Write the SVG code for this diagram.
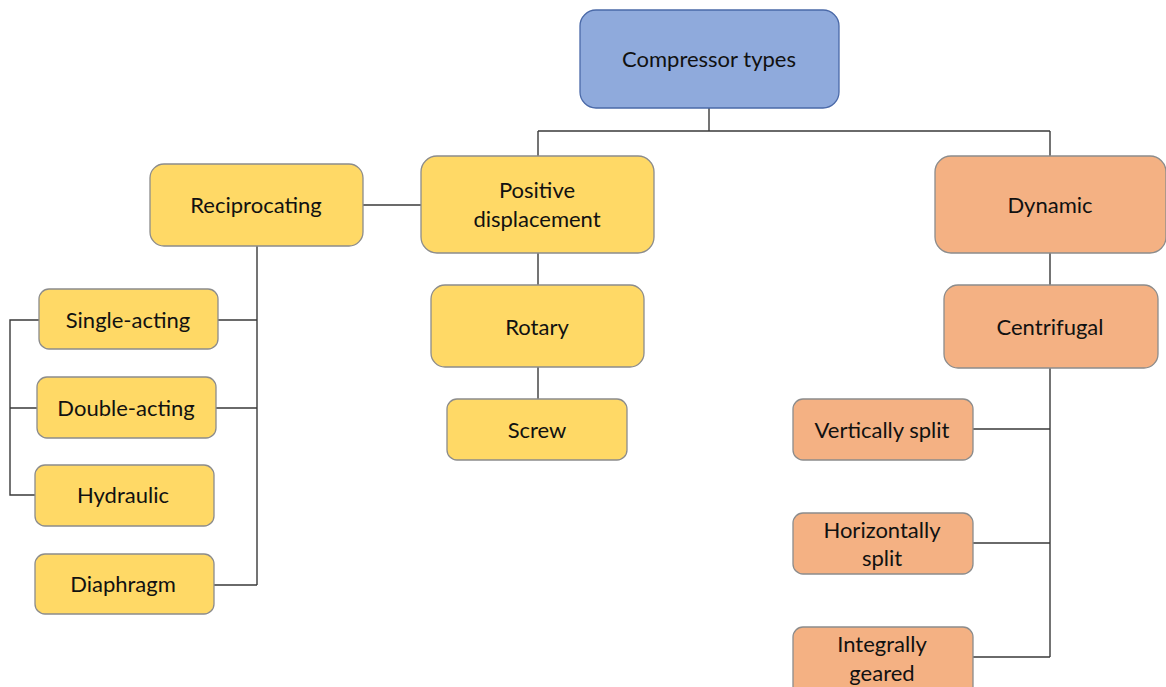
<svg xmlns="http://www.w3.org/2000/svg" width="1166" height="687" viewBox="0 0 1166 687">
<style>
.y{fill:#FFD966;stroke:#8c8c8c;stroke-width:1.3}
.o{fill:#F4B183;stroke:#8c8c8c;stroke-width:1.3}
.b{fill:#8FAADC;stroke:#4a69a8;stroke-width:1.3}
text{font-family:Lato,"Open Sans","Liberation Sans",sans-serif;font-size:22px;fill:#111;text-anchor:middle;dominant-baseline:central}
#connectors path{fill:none;stroke:#3a3a3a;stroke-width:1.4}
</style>
<rect width="1166" height="687" fill="#fff"/>
<g id="connectors">
<path d="M709 108V131M538 131H1050M538 131V156M1050 131V156"/>
<path d="M363 205H421"/>
<path d="M538 253V285M538 367V399"/>
<path d="M257 246V585M218 320H257M216 408H257M214 585H257"/>
<path d="M39 320H10V495H35M10 408H37"/>
<path d="M1050 253V285M1050 368V657M973 429H1050M973 543H1050M973 657H1050"/>
</g>
<g id="compressor-types"><rect class="b" x="580" y="10" width="259" height="98" rx="16"/><text x="709" y="58">Compressor types</text></g>
<g id="reciprocating"><rect class="y" x="150" y="164" width="213" height="82" rx="14"/><text x="256" y="204">Reciprocating</text></g>
<g id="positive-displacement"><rect class="y" x="421" y="156" width="233" height="97" rx="16"/><text x="537" y="189">Positive</text><text x="537" y="218">displacement</text></g>
<g id="rotary"><rect class="y" x="431" y="285" width="213" height="82" rx="14"/><text x="537" y="326">Rotary</text></g>
<g id="screw"><rect class="y" x="447" y="399" width="180" height="61" rx="10"/><text x="537" y="429">Screw</text></g>
<g id="single-acting"><rect class="y" x="39" y="289" width="179" height="60" rx="10"/><text x="128" y="319">Single-acting</text></g>
<g id="double-acting"><rect class="y" x="37" y="377" width="179" height="61" rx="10"/><text x="126" y="407">Double-acting</text></g>
<g id="hydraulic"><rect class="y" x="35" y="465" width="179" height="61" rx="10"/><text x="123" y="494">Hydraulic</text></g>
<g id="diaphragm"><rect class="y" x="35" y="554" width="179" height="60" rx="10"/><text x="123" y="583">Diaphragm</text></g>
<g id="dynamic"><rect class="o" x="935" y="156" width="231" height="97" rx="16"/><text x="1050" y="204">Dynamic</text></g>
<g id="centrifugal"><rect class="o" x="944" y="285" width="214" height="83" rx="14"/><text x="1050" y="326">Centrifugal</text></g>
<g id="vertically-split"><rect class="o" x="793" y="399" width="180" height="61" rx="10"/><text x="882" y="429">Vertically split</text></g>
<g id="horizontally-split"><rect class="o" x="793" y="513" width="180" height="61" rx="10"/><text x="882" y="529">Horizontally</text><text x="882" y="557">split</text></g>
<g id="integrally-geared"><rect class="o" x="793" y="627" width="180" height="70" rx="10"/><text x="882" y="643">Integrally</text><text x="882" y="672">geared</text></g>
</svg>
